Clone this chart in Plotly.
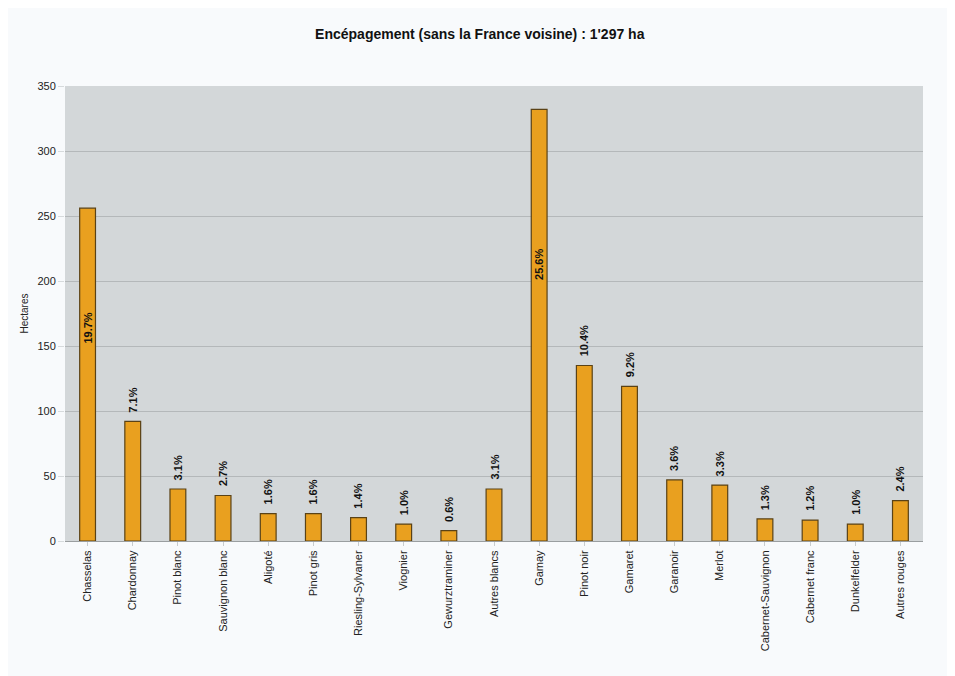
import plotly.graph_objects as go

categories = ["Chasselas", "Chardonnay", "Pinot blanc", "Sauvignon blanc", "Aligoté",
              "Pinot gris", "Riesling-Sylvaner", "Viognier", "Gewurztraminer", "Autres blancs",
              "Gamay", "Pinot noir", "Gamaret", "Garanoir", "Merlot",
              "Cabernet-Sauvignon", "Cabernet franc", "Dunkelfelder", "Autres rouges"]
hectares = [256, 92, 40, 35, 21, 21, 18, 13, 8, 40,
            332, 135, 119, 47, 43, 17, 16, 13, 31]
pct_labels = ["19.7%", "7.1%", "3.1%", "2.7%", "1.6%", "1.6%", "1.4%", "1.0%", "0.6%", "3.1%",
              "25.6%", "10.4%", "9.2%", "3.6%", "3.3%", "1.3%", "1.2%", "1.0%", "2.4%"]
inside_labels = {"Chasselas", "Gamay"}

FONT = "Liberation Sans, Arial"

fig = go.Figure()
fig.add_trace(go.Bar(
    x=categories, y=hectares,
    marker=dict(color="#E9A01F", line=dict(color="#5a4216", width=1.2)),
    width=0.35,
))

font_lbl = dict(family=FONT, size=11, color="#111")
for c, v, t in zip(categories, hectares, pct_labels):
    if c in inside_labels:
        fig.add_annotation(x=c, y=v * 0.64, text="<b>" + t + "</b>", textangle=-90,
                           showarrow=False, xanchor="center", yanchor="middle", font=font_lbl)
    else:
        fig.add_annotation(x=c, y=v, text="<b>" + t + "</b>", textangle=-90, yshift=7,
                           showarrow=False, xanchor="center", yanchor="bottom", font=font_lbl)

fig.update_layout(
    width=955, height=676,
    paper_bgcolor="#f8fafc", plot_bgcolor="#d3d7d9",
    margin=dict(l=57, r=40, t=78, b=143),
    title=dict(text="<b>Encépagement (sans la France voisine) : 1'297 ha</b>",
               x=0.494, xanchor="center", xref="container", y=0.9615, yanchor="middle",
               font=dict(family=FONT, size=14, color="#111")),
    showlegend=False,
)
fig.update_xaxes(tickangle=-90, tickfont=dict(family=FONT, size=11, color="#222"),
                 showline=True, linecolor="#9a9ea0", linewidth=1, ticks="outside", ticklen=4,
                 tickcolor="#c8ccce", showgrid=False)
fig.update_yaxes(range=[0, 350], dtick=50, showgrid=True, gridcolor="#b4b8ba", gridwidth=1,
                 tickfont=dict(family=FONT, size=11, color="#222"),
                 title=dict(text="Hectares", font=dict(family=FONT, size=10, color="#222"),
                            standoff=6),
                 showline=False, ticks="outside", ticklen=6,
                 tickcolor="#d6dadc", zeroline=False)

fig.write_html("out.html")
